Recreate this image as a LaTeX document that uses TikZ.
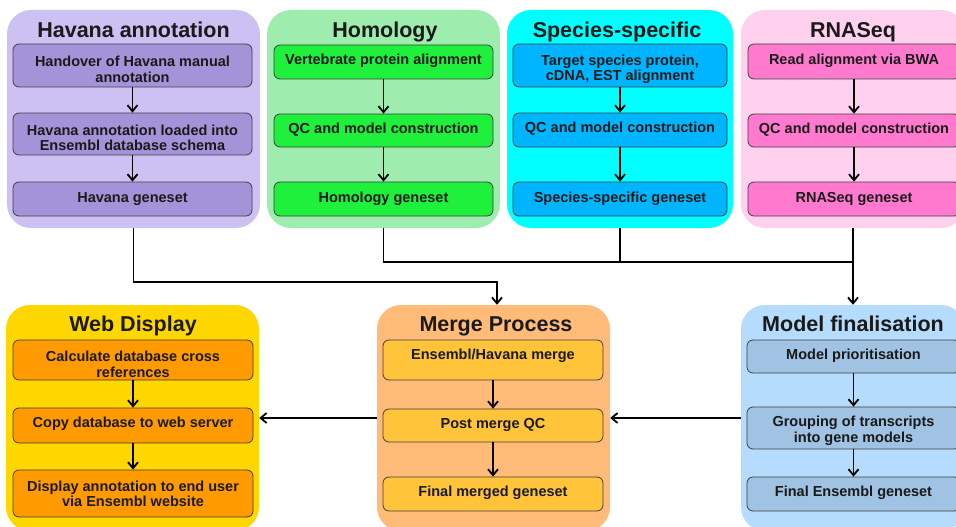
\documentclass[tikz,border=0pt]{standalone}
\usepackage{fontspec}
\setmainfont{Liberation Sans}
\usetikzlibrary{arrows.meta}
\definecolor{havC}{HTML}{CDC0F3}\definecolor{havB}{HTML}{A593D9}
\definecolor{homC}{HTML}{9FEDAE}\definecolor{homB}{HTML}{1EF03C}
\definecolor{speC}{HTML}{00FFFF}\definecolor{speB}{HTML}{00B5FF}
\definecolor{rnaC}{HTML}{FFD1EE}\definecolor{rnaB}{HTML}{FF7ACF}
\definecolor{webC}{HTML}{FFD700}\definecolor{webB}{HTML}{FF9A00}
\definecolor{merC}{HTML}{FFBB77}\definecolor{merB}{HTML}{FFC43A}
\definecolor{modC}{HTML}{B5DCFC}\definecolor{modB}{HTML}{A0C3E3}
\definecolor{txt}{HTML}{1A1A1A}
\tikzset{
  cont/.style={rectangle, rounded corners=24pt, inner sep=0pt, fill=#1},
  ttl/.style={anchor=base, font=\fontsize{21.5}{24}\selectfont\bfseries, text=txt, inner sep=0pt},
  stepbox/.style={rectangle, rounded corners=6pt, draw=black!75, line width=0.8pt, fill=#1,
    inner sep=0pt},
  btxt/.style={inner sep=0pt, align=center, font=\fontsize{14.5}{15.5}\selectfont\bfseries, text=txt},
  arr/.style={line width=1.8pt, -{Straight Barb[length=6pt,width=10pt,line width=1.8pt]}},
  ln/.style={line width=1.8pt},
}
\begin{document}
\begin{tikzpicture}[x=1pt,y=-1pt]
\clip (0,0) rectangle (956,527);
\fill[white] (0,0) rectangle (956,527);
% containers
\node[cont=havC, minimum width=253pt, minimum height=218pt] (hav) at (133.5,119) {};
\node[cont=homC, minimum width=233pt, minimum height=218pt] (hom) at (383.5,119) {};
\node[cont=speC, minimum width=226pt, minimum height=218pt] (spe) at (620,119) {};
\node[cont=rnaC, minimum width=224pt, minimum height=218pt] (rna) at (853,119) {};
\node[cont=webC, minimum width=253pt, minimum height=226pt] (web) at (132.5,418) {};
\node[cont=merC, minimum width=233pt, minimum height=226pt] (mer) at (493.5,418) {};
\node[cont=modC, minimum width=224pt, minimum height=226pt] (mod) at (853,418) {};
% titles
\node[ttl] (havt) at (133.5,37.5) {Havana annotation};
\node[ttl] (homt) at (385,37.5) {Homology};
\node[ttl] (spet) at (617,37.5) {Species-specific};
\node[ttl] (rnat) at (853,37.5) {RNASeq};
\node[ttl] (webt) at (133,331) {Web Display};
\node[ttl] (mert) at (496,331) {Merge Process};
\node[ttl] (modt) at (853,331) {Model finalisation};
% Havana
\node[stepbox=havB, minimum width=239pt, minimum height=43pt] (h1) at (132.5,65.5) {};
\node[stepbox=havB, minimum width=239pt, minimum height=42pt] (h2) at (132.5,134) {};
\node[stepbox=havB, minimum width=239pt, minimum height=34pt] (h3) at (132.5,199) {};
\node[btxt] (h1t) at (132.5,69.5) {Handover of Havana manual\\annotation};
\node[btxt] (h2t) at (132.5,138) {Havana annotation loaded into\\Ensembl database schema};
\node[btxt] (h3t) at (132.5,199) {Havana geneset};
% Homology
\node[stepbox=homB, minimum width=219pt, minimum height=34pt] (o1) at (383.5,62) {};
\node[stepbox=homB, minimum width=219pt, minimum height=33pt] (o2) at (383.5,130.5) {};
\node[stepbox=homB, minimum width=219pt, minimum height=34pt] (o3) at (383.5,199) {};
\node[btxt] (o1t) at (383.5,61) {Vertebrate protein alignment};
\node[btxt] (o2t) at (383.5,130) {QC and model construction};
\node[btxt] (o3t) at (383.5,198.5) {Homology geneset};
% Species-specific
\node[stepbox=speB, minimum width=214pt, minimum height=43pt] (s1) at (620,65.5) {};
\node[stepbox=speB, minimum width=214pt, minimum height=34pt] (s2) at (620,130) {};
\node[stepbox=speB, minimum width=214pt, minimum height=34pt] (s3) at (620,199) {};
\node[btxt] (s1t) at (620,69.5) {Target species protein,\\cDNA, EST alignment};
\node[btxt] (s2t) at (620,129) {QC and model construction};
\node[btxt] (s3t) at (620,198.5) {Species-specific geneset};
% RNASeq
\node[stepbox=rnaB, minimum width=212pt, minimum height=35pt] (r1) at (854,61.5) {};
\node[stepbox=rnaB, minimum width=212pt, minimum height=33pt] (r2) at (854,130.5) {};
\node[stepbox=rnaB, minimum width=212pt, minimum height=34pt] (r3) at (854,199) {};
\node[btxt] (r1t) at (854,61) {Read alignment via BWA};
\node[btxt] (r2t) at (854,130) {QC and model construction};
\node[btxt] (r3t) at (854,198.5) {RNASeq geneset};
% Web display
\node[stepbox=webB, minimum width=240pt, minimum height=40pt] (w1) at (133,360) {};
\node[stepbox=webB, minimum width=240pt, minimum height=35pt] (w2) at (133,425.5) {};
\node[stepbox=webB, minimum width=240pt, minimum height=47pt] (w3) at (133,493.5) {};
\node[btxt] (w1t) at (133,364.5) {Calculate database cross\\references};
\node[btxt] (w2t) at (133,424) {Copy database to web server};
\node[btxt] (w3t) at (133,494) {Display annotation to end user\\via Ensembl website};
% Merge
\node[stepbox=merB, minimum width=220pt, minimum height=40pt] (m1) at (493,360) {};
\node[stepbox=merB, minimum width=220pt, minimum height=33pt] (m2) at (493,425.5) {};
\node[stepbox=merB, minimum width=220pt, minimum height=34pt] (m3) at (493,494) {};
\node[btxt] (m1t) at (493,355.5) {Ensembl/Havana merge};
\node[btxt] (m2t) at (493,424.5) {Post merge QC};
\node[btxt] (m3t) at (493,492.5) {Final merged geneset};
% Model finalisation
\node[stepbox=modB, minimum width=213pt, minimum height=33pt] (f1) at (853.5,356.5) {};
\node[stepbox=modB, minimum width=213pt, minimum height=42pt] (f2) at (853.5,428) {};
\node[stepbox=modB, minimum width=213pt, minimum height=34pt] (f3) at (853.5,494) {};
\node[btxt] (f1t) at (853.5,356) {Model prioritisation};
\node[btxt] (f2t) at (853.5,431) {Grouping of transcripts\\into gene models};
\node[btxt] (f3t) at (853.5,492.5) {Final Ensembl geneset};
% inner arrows
\draw[arr] (h1) -- (h2); \draw[arr] (h2) -- (h3);
\draw[arr] (o1) -- (o2); \draw[arr] (o2) -- (o3);
\draw[arr] (s1) -- (s2); \draw[arr] (s2) -- (s3);
\draw[arr] (r1) -- (r2); \draw[arr] (r2) -- (r3);
\draw[arr] (w1) -- (w2); \draw[arr] (w2) -- (w3);
\draw[arr] (m1) -- (m2); \draw[arr] (m2) -- (m3);
\draw[arr] (f1) -- (f2); \draw[arr] (f2) -- (f3);
% cross connectors
\coordinate (j1) at (497,282);
\coordinate (j2) at (853,262);
\draw[arr] (hav.south) |- (j1) -- (j1 |- mer.north);
\draw[ln] (hom.south) |- (j2);
\draw[ln] (spe.south) -- (spe.south |- j2);
\draw[arr] (rna.south) -- (mod.north);
\draw[arr] (mod) -- (mer);
\draw[arr] (mer) -- (web);
\end{tikzpicture}
\end{document}
